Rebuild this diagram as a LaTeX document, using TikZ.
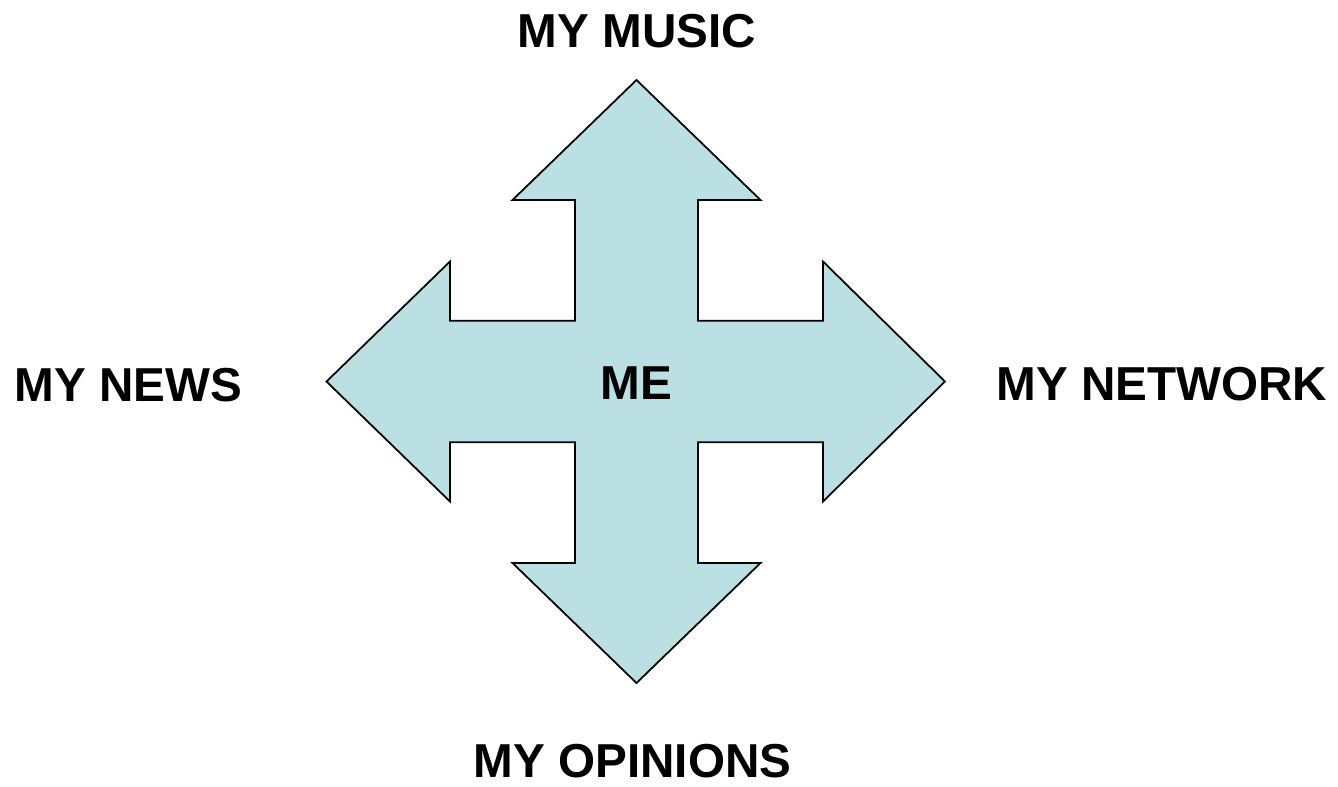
\documentclass[tikz,border=0pt]{standalone}
\usepackage{fontspec}
\setmainfont{Liberation Sans}
\usepackage{tikz}
\definecolor{meblue}{RGB}{187,224,227}

\begin{document}
\begin{tikzpicture}[scale=1.0, every node/.style={font=\fontsize{27.1}{32}\selectfont\bfseries, anchor=base, inner sep=0pt}]
\useasboundingbox (-12.73,-8.09) rectangle (14.03,7.63);

\draw[fill=meblue, line width=1pt, line join=miter]
  (0,6.03) -- (2.48,3.63) -- (1.23,3.63) -- (1.23,1.215) -- (3.73,1.215) -- (3.73,2.4)
  -- (6.17,0) -- (3.73,-2.4) -- (3.73,-1.215) -- (1.23,-1.215) -- (1.23,-3.63) -- (2.48,-3.63)
  -- (0,-6.03) -- (-2.48,-3.63) -- (-1.23,-3.63) -- (-1.23,-1.215) -- (-3.73,-1.215) -- (-3.73,-2.4)
  -- (-6.2,0) -- (-3.73,2.4) -- (-3.73,1.215) -- (-1.23,1.215) -- (-1.23,3.63) -- (-2.48,3.63) -- cycle;

\node (me) at (0,-0.35) {ME};
\node (music) at (0.01,6.69) {MY MUSIC};
\node (news) at (-10.16,-0.39) {MY NEWS};
\node (network) at (10.51,-0.37) {MY NETWORK};
\node (opinions) at (-0.08,-7.91) {MY OPINIONS};
\end{tikzpicture}
\end{document}
